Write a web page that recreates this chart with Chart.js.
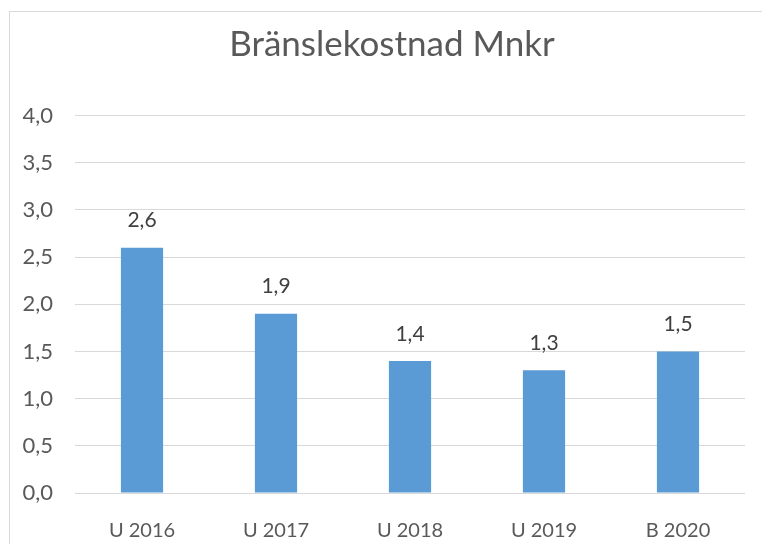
<!DOCTYPE html>
<html>
<head>
<meta charset="utf-8">
<script src="https://cdn.jsdelivr.net/npm/chart.js@4"></script>
<style>
  html, body { margin: 0; padding: 0; background: #fff; overflow: hidden; }
  #wrap { position: relative; width: 762px; height: 544px; }
  #frame { position: absolute; left: 9px; top: 11px; width: 766px; height: 600px; border: 1.5px solid #d9d9d9; box-sizing: border-box; }
  canvas { position: absolute; left: 0; top: 0; }
</style>
</head>
<body>
<div id="wrap">
  <div id="frame"></div>
  <canvas id="chart" width="762" height="544"></canvas>
</div>
<script>
// data
var categories = ['U 2016', 'U 2017', 'U 2018', 'U 2019', 'B 2020'];
var values = [2.6, 1.9, 1.4, 1.3, 1.5];
var chartTitle = 'Bränslekostnad Mnkr';

function fmt(v) {
  return v.toFixed(1).replace('.', ',');
}

// title centred on the chart frame (frame runs past the right edge of the picture)
var frameTitle = {
  id: 'frameTitle',
  afterDraw: function (chart) {
    var ctx = chart.ctx;
    ctx.save();
    ctx.font = '35px Lato';
    ctx.fillStyle = '#595959';
    ctx.textAlign = 'center';
    ctx.textBaseline = 'middle';
    ctx.fillText(chartTitle, 9 + 766 / 2, 45);
    ctx.restore();
  }
};

// value labels above the bars
var barLabels = {
  id: 'barLabels',
  afterDatasetsDraw: function (chart) {
    var ctx = chart.ctx;
    var meta = chart.getDatasetMeta(0);
    ctx.save();
    ctx.font = '21px Lato';
    ctx.fillStyle = '#404040';
    ctx.textAlign = 'center';
    ctx.textBaseline = 'middle';
    meta.data.forEach(function (bar, i) {
      ctx.fillText(fmt(values[i]), bar.x, bar.y - 27);
    });
    ctx.restore();
  }
};

function createChart() {
  var ctx = document.getElementById('chart').getContext('2d');
  return new Chart(ctx, {
    type: 'bar',
    data: {
      labels: categories,
      datasets: [{
        data: values,
        backgroundColor: '#5b9bd5',
        borderWidth: 0,
        categoryPercentage: 1,
        barPercentage: 0.315
      }]
    },
    options: {
      responsive: false,
      animation: false,
      layout: { padding: { left: 0, right: 17, top: 115.5, bottom: 0 } },
      plugins: {
        legend: { display: false },
        tooltip: { enabled: false },
        title: { display: false }
      },
      scales: {
        x: {
          afterFit: function (s) { s.height = 51; },
          grid: { display: false, drawTicks: false },
          border: { display: false },
          ticks: {
            color: '#595959',
            font: { family: 'Lato', size: 20 },
            padding: 26,
            maxRotation: 0
          }
        },
        y: {
          min: 0,
          max: 4,
          afterFit: function (s) { s.width = 75; },
          grid: { color: '#d9d9d9', lineWidth: 1, drawTicks: false },
          border: { display: false },
          ticks: {
            stepSize: 0.5,
            color: '#595959',
            font: { family: 'Lato', size: 22 },
            padding: 22,
            callback: function (v) { return fmt(v); }
          }
        }
      }
    },
    plugins: [barLabels, frameTitle]
  });
}

var chart = createChart();
</script>
</body>
</html>
